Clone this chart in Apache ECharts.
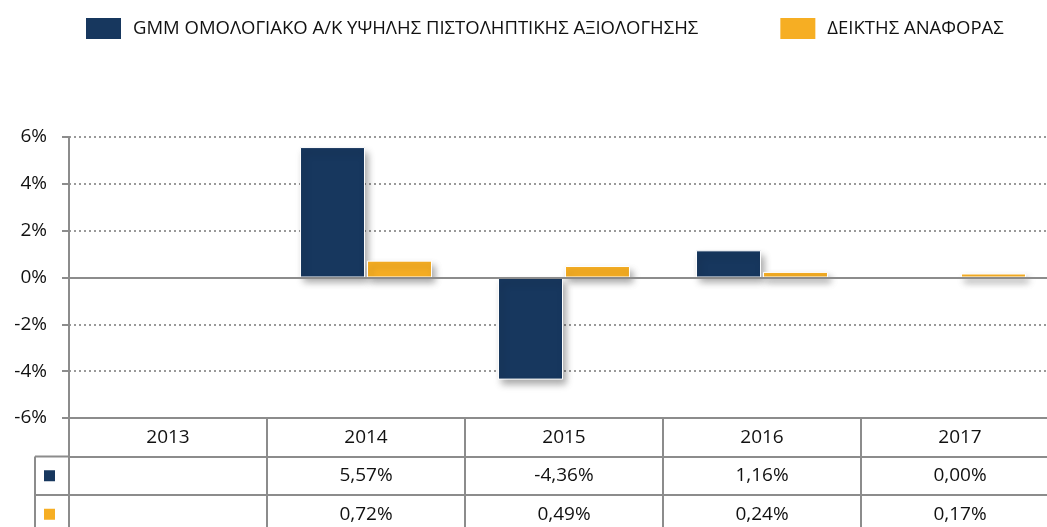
<!DOCTYPE html>
<html>
<head>
<meta charset="utf-8">
<script src="https://cdn.jsdelivr.net/npm/echarts@6/dist/echarts.min.js"></script>
<style>
  html, body { margin: 0; padding: 0; background: #fff; overflow: hidden; }
  /* ο πίνακας συνεχίζει λίγο πέρα από το δεξί άκρο */
  #chart { width: 1070px; height: 527px; }
</style>
</head>
<body>
<div id="chart"></div>
<script>
// δεδομένα
var years = ['2013', '2014', '2015', '2016', '2017'];
var fundName = 'GMM ΟΜΟΛΟΓΙΑΚΟ Α/Κ ΥΨΗΛΗΣ ΠΙΣΤΟΛΗΠΤΙΚΗΣ ΑΞΙΟΛΟΓΗΣΗΣ';
var benchName = 'ΔΕΙΚΤΗΣ ΑΝΑΦΟΡΑΣ';
var fundValues = [null, 5.57, -4.36, 1.16, 0.00];
var benchValues = [null, 0.72, 0.49, 0.24, 0.17];

var NAVY = '#17375e';
var ORANGE = '#f6ae23';
var GRAY = '#8c8c8c';
var FONT = 'Open Sans';

// layout
var gridLeft = 69, gridTop = 137, gridHeight = 281, gridWidth = 990;
var rowH = 38.5;
var tableLeft = 35;
var tableBottom = 540;

function fmt(v) {
  if (v === null || v === undefined) return '';
  return v.toFixed(2).replace('.', ',') + '%';
}

function tableAxis(labels, row) {
  return {
    type: 'category',
    data: labels,
    position: 'bottom',
    offset: rowH * row,
    gridIndex: 0,
    axisLine: { show: true, onZero: false, lineStyle: { color: GRAY, width: 2 } },
    axisTick: { show: false },
    splitLine: { show: false },
    axisLabel: {
      interval: 0,
      margin: rowH / 2,
      verticalAlign: 'middle',
      color: '#111',
      fontFamily: FONT,
      fontSize: 19
    }
  };
}

var chart = echarts.init(document.getElementById('chart'));

var bottomY = gridTop + gridHeight;
var barStyle = function (color) {
  return {
    color: color,
    borderColor: '#fff',
    borderWidth: 1,
    shadowBlur: 7,
    shadowColor: 'rgba(0,0,0,0.35)',
    shadowOffsetX: 3,
    shadowOffsetY: 5
  };
};
// μηδενικές τιμές χωρίς σκιά
function barData(arr) {
  return arr.map(function (v) {
    if (v === 0) return { value: v, itemStyle: { shadowColor: 'transparent', borderWidth: 0 } };
    return v;
  });
}

var options = {
  animation: false,
  backgroundColor: '#fff',
  legend: {
    left: 84,
    top: 16,
    padding: 0,
    itemWidth: 37,
    itemHeight: 23,
    itemGap: 80,
    icon: 'rect',
    textStyle: { fontFamily: FONT, fontSize: 18.5, color: '#111', padding: [0, 0, 0, 6] },
    data: [fundName, benchName]
  },
  grid: {
    left: gridLeft,
    top: gridTop,
    width: gridWidth,
    height: gridHeight,
    containLabel: false
  },
  xAxis: [
    {
      type: 'category',
      data: years,
      position: 'bottom',
      axisLine: { show: true, onZero: false, lineStyle: { color: GRAY, width: 2 } },
      axisTick: { show: true, length: tableBottom - bottomY, lineStyle: { color: GRAY, width: 2 } },
      splitLine: { show: false },
      axisLabel: {
        interval: 0,
        margin: rowH / 2,
        verticalAlign: 'middle',
        color: '#111',
        fontFamily: FONT,
        fontSize: 19
      }
    },
    tableAxis(fundValues.map(fmt), 1),
    tableAxis(benchValues.map(fmt), 2)
  ],
  yAxis: {
    type: 'value',
    min: -6,
    max: 6,
    interval: 2,
    axisLine: { show: true, lineStyle: { color: GRAY, width: 2 } },
    axisTick: { show: true, length: 7, lineStyle: { color: GRAY, width: 2 } },
    axisLabel: {
      formatter: function (v) { return v + '%'; },
      margin: 22,
      color: '#111',
      fontFamily: FONT,
      fontSize: 19
    },
    splitLine: { show: true, lineStyle: { color: '#999', width: 2, type: [2, 3] } }
  },
  series: [
    {
      name: fundName,
      type: 'bar',
      data: barData(fundValues),
      barWidth: 65,
      barGap: '3%',
      itemStyle: barStyle(NAVY),
      markLine: {
        silent: true,
        symbol: 'none',
        label: { show: false },
        lineStyle: { color: GRAY, width: 2, type: 'solid' },
        data: [{ yAxis: 0 }]
      }
    },
    {
      name: benchName,
      type: 'bar',
      data: barData(benchValues),
      barWidth: 65,
      itemStyle: barStyle(ORANGE)
    }
  ],
  graphic: [
    // αριστερή στήλη πίνακα
    { type: 'line', shape: { x1: tableLeft, y1: bottomY + rowH, x2: gridLeft, y2: bottomY + rowH }, style: { stroke: GRAY, lineWidth: 2 } },
    { type: 'line', shape: { x1: tableLeft, y1: bottomY + rowH * 2, x2: gridLeft, y2: bottomY + rowH * 2 }, style: { stroke: GRAY, lineWidth: 2 } },
    { type: 'line', shape: { x1: tableLeft, y1: bottomY + rowH, x2: tableLeft, y2: tableBottom }, style: { stroke: GRAY, lineWidth: 2 } },
    { type: 'rect', shape: { x: 44, y: bottomY + rowH * 1.5 - 5.5, width: 11, height: 11 }, style: { fill: NAVY } },
    { type: 'rect', shape: { x: 44, y: bottomY + rowH * 2.5 - 5.5, width: 11, height: 11 }, style: { fill: ORANGE } }
  ]
};

chart.setOption(options);
</script>
</body>
</html>
